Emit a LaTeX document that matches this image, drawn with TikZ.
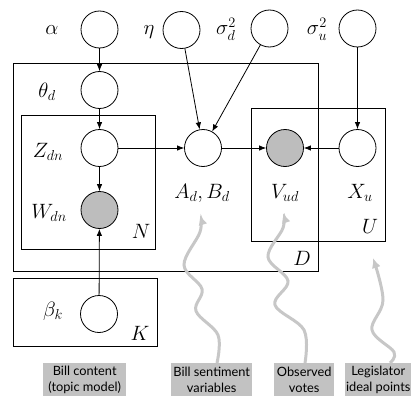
\documentclass[tikz,border=0pt]{standalone}
\usepackage{fontspec}
\newfontfamily\boxfont{Lato}
\usetikzlibrary{arrows.meta}
\definecolor{obsgray}{gray}{0.74}
\definecolor{squiggray}{gray}{0.78}
\definecolor{boxgray}{gray}{0.76}
\begin{document}
\begin{tikzpicture}[x=1pt,y=-1pt,
  latent/.style={circle,draw,line width=0.8pt,minimum size=37pt,inner sep=0pt},
  obs/.style={latent,fill=obsgray},
  plate/.style={draw,line width=0.8pt},
  edge/.style={-{Latex[length=7pt,width=5.5pt]},line width=0.8pt},
  lbl/.style={inner sep=0pt,anchor=base,font=\fontsize{22}{26}\selectfont},
  gbox/.style={fill=boxgray,inner sep=0pt,anchor=north west,align=center,font=\boxfont\fontsize{12.8}{15.5}\selectfont},
  squig/.style={draw=squiggray,line width=3pt,-{Latex[length=10pt,width=9pt]}}
]
\useasboundingbox (0,0) rectangle (412,396);
% plates
\draw[plate] (13,63) rectangle (318,271);
\draw[plate] (21,115) rectangle (155,249);
\draw[plate] (251,108) rectangle (385,241);
\draw[plate] (13,278) rectangle (157,346);
% nodes
\node[latent] (alpha) at (99.5,29.5) {};
\node[latent] (eta) at (181.5,30) {};
\node[latent] (sigd) at (269.5,28.5) {};
\node[latent] (sigu) at (357.5,28.5) {};
\node[latent] (theta) at (99.5,90) {};
\node[latent] (Z) at (99.5,148) {};
\node[obs] (W) at (99.5,210) {};
\node[latent] (A) at (203,148) {};
\node[obs] (V) at (285,148) {};
\node[latent] (X) at (357.5,148) {};
\node[latent] (beta) at (99,314) {};
% labels
\node[lbl] (lalpha) at (52,35) {$\alpha$};
\node[lbl] (leta) at (149,35) {$\eta$};
\node[lbl] (lsigd) at (226,35) {$\sigma_d^2$};
\node[lbl] (lsigu) at (317,35) {$\sigma_u^2$};
\node[lbl] (ltheta) at (47,97) {$\theta_d$};
\node[lbl] (lZ) at (48,157) {$Z_{dn}$};
\node[lbl] (lW) at (49,218) {$W_{dn}$};
\node[lbl] (lbeta) at (53,316) {$\beta_k$};
\node[lbl] (lA) at (202,198) {$A_d,B_d$};
\node[lbl] (lV) at (285,198) {$V_{ud}$};
\node[lbl] (lX) at (360,198) {$X_u$};
\node[lbl] (lN) at (141,238) {$N$};
\node[lbl] (lK) at (140,340) {$K$};
\node[lbl] (lU) at (370,233) {$U$};
\node[lbl] (lD) at (302,265) {$D$};
% edges
\draw[edge] (alpha) -- (theta);
\draw[edge] (theta) -- (Z);
\draw[edge] (Z) -- (W);
\draw[edge] (beta) -- (W);
\draw[edge] (Z) -- (A);
\draw[edge] (eta) -- (A);
\draw[edge] (sigd) -- (A);
\draw[edge] (A) -- (V);
\draw[edge] (X) -- (V);
\draw[edge] (sigu) -- (X);
% grey label boxes
\node[gbox,minimum width=83pt,minimum height=33pt] (b1) at (43,363) {Bill content\\(topic model)};
\node[gbox,minimum width=81pt,minimum height=33pt] (b2) at (171,363) {Bill sentiment\\variables};
\node[gbox,minimum width=60pt,minimum height=33pt] (b3) at (274,363) {Observed\\votes};
\node[gbox,minimum width=66pt,minimum height=33pt] (b4) at (345,363) {Legislator\\ideal points};
% squiggles
\coordinate (t2) at (200,215);
\coordinate (t3) at (283,213);
\coordinate (t4) at (373,258);
\draw[squig] plot[smooth,tension=0.6] coordinates {(217,363) (218,335) (196,311) (202,289) (184,265) (200,232) (t2)};
\draw[squig] plot[smooth,tension=0.6] coordinates {(305,363) (304,330) (275,305) (288,281) (268,257) (283,228) (t3)};
\draw[squig] plot[smooth,tension=0.6] coordinates {(390,363) (394,352) (372,330) (383,300) (t4)};
\end{tikzpicture}
\end{document}
